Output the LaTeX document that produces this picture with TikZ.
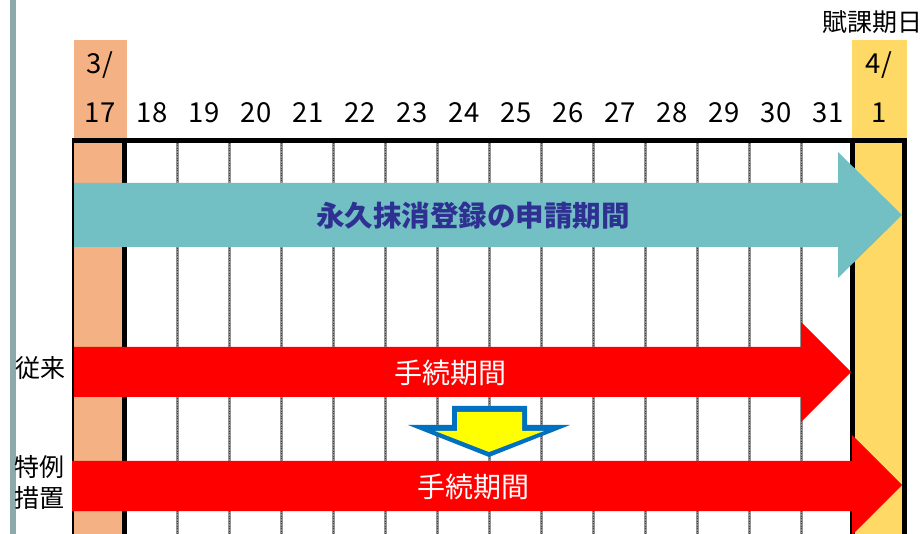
\documentclass[tikz,border=0pt]{standalone}
\usepackage{fontspec}
\setmainfont{Noto Sans CJK JP}
\definecolor{sidebar}{HTML}{8EA9AB}
\definecolor{startcol}{HTML}{F4B183}
\definecolor{endcol}{HTML}{FFD966}
\definecolor{tealarrow}{HTML}{72BFC4}
\definecolor{navytext}{HTML}{2E3192}
\definecolor{redarrow}{HTML}{FF0000}
\definecolor{bluerim}{HTML}{0070C0}
\definecolor{yellowfill}{HTML}{FFFF00}
\tikzset{
  daylabel/.style={font=\fontsize{27.5}{27.5}\selectfont, inner sep=0pt, anchor=center},
  sidelabel/.style={font=\fontsize{25}{25}\selectfont, inner sep=0pt, anchor=center},
  arrowtext/.style={font=\fontsize{28}{28}\selectfont, inner sep=0pt, anchor=center},
  gridline/.style={draw=gray!85, line width=3pt},
  griddots/.style={draw=black!75, line width=1pt, dash pattern=on 1pt off 1.5pt},
  tableline/.style={draw=black, line width=5pt},
}
\begin{document}
\begin{tikzpicture}[x=1pt,y=-1pt]
\useasboundingbox (0,0) rectangle (924,534);
% side bar
\fill[sidebar] (10,0) rectangle (15.5,534);
% start and end columns
\fill[startcol] (74,40) rectangle (127,534);
\fill[endcol] (852,40) rectangle (907,534);
% dotted grid lines
\foreach \k in {0,...,12}{
  \pgfmathsetmacro{\xx}{177+52*\k}
  \draw[gridline] (\xx,143) -- (\xx,534);
  \draw[griddots] (\xx,143) -- (\xx,534);
}
% table lines
\draw[draw=black, line width=2pt] (73,140) -- (73,534);
\draw[tableline] (124.5,534) -- (124.5,140.5) ;
\draw[tableline] (71.5,140.5) -- (906.5,140.5);
\draw[tableline] (852.5,140.5) -- (852.5,534);
\draw[tableline] (904,140.5) -- (904,534);
% header labels
\node[daylabel] (m3) at (100,65) {3/};
\node[daylabel] (d17) at (100,113) {17};
\foreach \d [count=\i from 0] in {18,...,31}{
  \pgfmathsetmacro{\xc}{152+52*\i}
  \node[daylabel] (d\d) at (\xc,113) {\d};
}
\node[daylabel] (m4) at (879,65) {4/};
\node[daylabel] (d1) at (879,113) {1};
\node[sidelabel, anchor=east] (fukaki) at (923,22) {賦課期日};
% teal arrow
\fill[tealarrow] (74,183) -- (838,183) -- (838,152) -- (902,215) -- (838,278) -- (838,247) -- (74,247) -- cycle;
\node[arrowtext, font=\fontsize{28.5}{28.5}\selectfont\bfseries, text=navytext] (shinsei) at (473,216) {永久抹消登録の申請期間};
% red arrow 1
\fill[redarrow] (74,347) -- (801,347) -- (801,322) -- (851,372) -- (801,422) -- (801,397) -- (74,397) -- cycle;
\node[arrowtext, text=white] (tetsu1) at (450,373) {手続期間};
% red arrow 2
\fill[redarrow] (72,461) -- (852,461) -- (852,435) -- (902,485) -- (852,535) -- (852,511) -- (72,511) -- cycle;
\node[arrowtext, text=white] (tetsu2) at (473,487) {手続期間};
% yellow down arrow
\fill[bluerim] (452,406) -- (527,406) -- (527,425) -- (570,425) -- (489,457) -- (408,425) -- (452,425) -- cycle;
\fill[yellowfill] (457,412) -- (522,412) -- (522,431) -- (544,431) -- (489,452) -- (435,431) -- (457,431) -- cycle;
% side labels
\node[sidelabel] (juurai) at (41,368) {従来};
\node[sidelabel] (tokurei) at (39,467) {特例};
\node[sidelabel] (sochi) at (39,498) {措置};
\end{tikzpicture}
\end{document}
